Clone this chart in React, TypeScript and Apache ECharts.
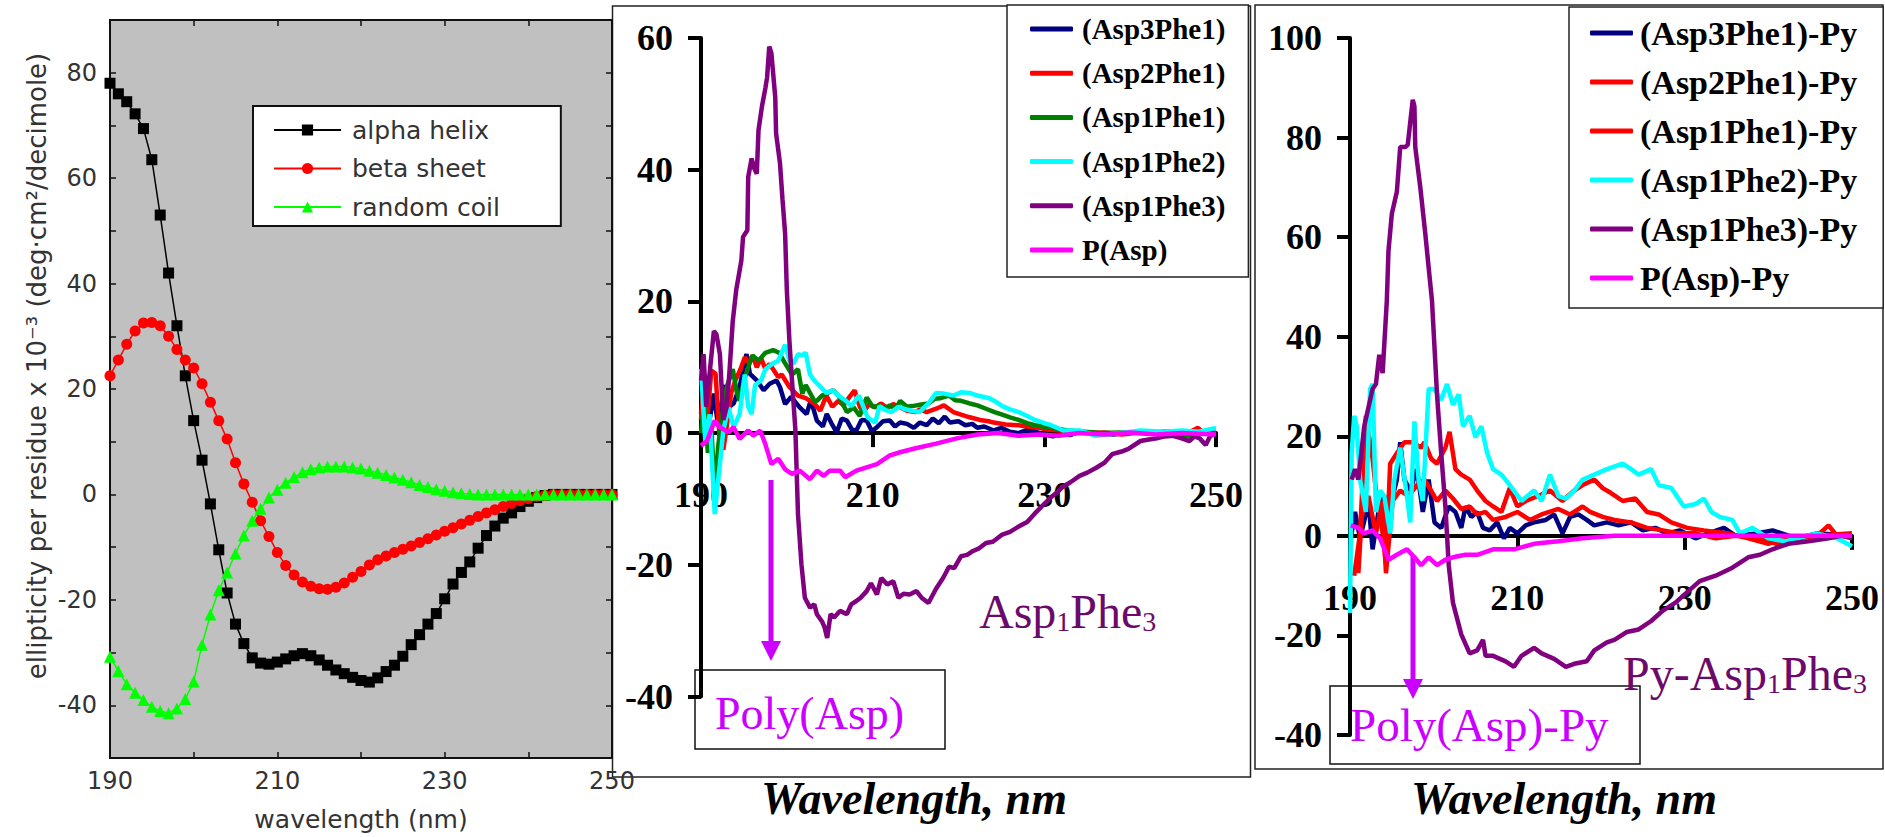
import React, { useEffect, useRef } from 'react';
import * as echarts from 'echarts';

// ---------- Panel 1: reference spectra ----------
const wavelengths = [190,191,192,193,194,195,196,197,198,199,200,201,202,203,204,205,206,207,208,209,210,211,212,213,214,215,216,217,218,219,220,221,222,223,224,225,226,227,228,229,230,231,232,233,234,235,236,237,238,239,240,241,242,243,244,245,246,247,248,249,250];
const alphaHelix = [78,76,74.5,72.2,69.4,63.5,53,42,32,22.5,14,6.5,-1.8,-10.5,-18.7,-24.6,-28.3,-31,-32,-32.2,-31.8,-31.2,-30.6,-30.2,-30.6,-31.4,-32.4,-33.3,-34,-34.7,-35.3,-35.6,-34.8,-33.6,-32.4,-30.7,-28.5,-26.6,-24.6,-22.6,-19.8,-17,-14.8,-12.8,-10.2,-7.8,-6,-4.5,-3.5,-2.3,-1.3,-0.6,-0.2,0,0,0,0,0,0,0,0];
const betaSheet = [22.5,25.5,28.5,31,32.5,32.6,32,30,27.5,25.5,24,21,17.5,14,10.5,6,2,-1.5,-5,-8,-11,-13.5,-15.3,-16.6,-17.4,-17.9,-18,-17.6,-16.8,-15.7,-14.6,-13.4,-12.4,-11.7,-11,-10.4,-9.8,-9.1,-8.4,-7.7,-7,-6.3,-5.6,-4.9,-4.2,-3.5,-2.9,-2.3,-1.7,-1.2,-0.8,-0.4,-0.2,0,0,0,0,0,0,0,0];
const randomCoil = [-30.8,-33.5,-36,-37.6,-39,-40.3,-41.1,-41.5,-40.6,-38.8,-35.5,-28.5,-22.8,-18.2,-14.8,-11.2,-7.8,-5,-2.7,-0.6,0.9,2.2,3.3,4.2,4.8,5.1,5.3,5.3,5.3,5.1,4.9,4.5,4.1,3.7,3.2,2.8,2.3,1.8,1.4,1,0.7,0.4,0.2,0.1,0,0,0,0,0,0,0,0,0,0,0,0,0,0,0,0,0];

// ---------- Panel 2: copolymers ----------
const p2Asp3Phe1 = [[190,3],[190.5,8],[191,2],[191.5,6],[192,1],[192.7,7.3],[193.3,4],[193.8,4.5],[194.5,7],[195.3,12],[195.7,9],[196.5,8],[197.3,6.5],[198,7.5],[198.8,8],[199.2,7],[199.8,4.4],[200.5,5.5],[201.5,3.9],[202.3,2.9],[202.8,5],[203.5,1.9],[204.2,1],[204.65,2.9],[205.2,1.5],[205.8,0.1],[206.4,2.2],[207,1.9],[207.6,0.5],[208.1,0.4],[208.7,2],[209.3,1.9],[209.9,0.3],[210.5,0.9],[211.2,1.8],[212,1.9],[212.6,1],[213.2,1.6],[214,1.4],[214.8,0.8],[215.5,1.6],[216.3,1.2],[217,2.2],[217.7,1.5],[218.4,2.5],[219,1.6],[220,1.8],[220.8,1.2],[221.6,1.4],[222.2,0.8],[223,1],[224.1,0.4],[225,0.8],[226,0.2],[227,0],[228,0.5],[229,0.2],[230,-0.2],[231,-0.5],[232,0],[233,-0.3],[234,0.2],[236,0],[238,-0.2],[240,0.1],[242,0],[244,0.2],[246,-0.2],[248,0.3],[250,0]];
const p2Asp2Phe1 = [[190,2],[190.4,9],[190.8,3],[191.2,9.5],[191.7,9],[192.2,-1.6],[192.6,-2.5],[193,1],[193.5,6],[194,8],[194.6,9.7],[195.1,11.5],[195.6,10.6],[196,11.8],[196.5,10],[197,11.4],[197.5,9.7],[198,10.5],[198.4,9.7],[199,8.5],[199.4,8.9],[200.3,7],[201.3,5.7],[202.2,5.3],[203.2,4.5],[203.9,3.4],[204.6,5.7],[205.3,4],[206,4.9],[206.6,4.2],[207.3,5.5],[207.9,6.5],[208.5,4],[208.9,3.2],[209.6,4.4],[210.3,3.9],[211,4.5],[211.7,3.8],[212.4,4.4],[213.2,3.9],[214,3.4],[215,3.2],[215.5,3.6],[216.3,3.2],[217.4,3.7],[218.3,4.2],[219.4,3.2],[220.3,2.8],[221.3,2.4],[222.5,2],[223.5,1.8],[224.1,1.6],[225.5,1.3],[227,1.2],[228,1],[229.3,0.8],[230.5,0.5],[231.7,0.4],[233,0.2],[235,0],[237,0.1],[239,-0.2],[241,0.1],[243,0],[245,0.3],[247,0.2],[247.9,0.8],[248.5,0.1],[250,0]];
const p2Asp1Phe1 = [[190,0],[190.4,5],[190.8,-3],[191.2,1],[191.6,-8.8],[192,-2],[192.5,3],[193,7],[193.7,9.7],[194.2,6],[194.5,4.9],[195,8],[195.5,10],[196,11.8],[196.7,11],[197.5,12.2],[198.4,12.6],[199.1,12.2],[199.8,10.6],[200.6,8.9],[201.3,9.7],[201.8,6],[202.2,7.3],[203.2,4.9],[203.5,4.9],[204.1,5.7],[205.4,6.5],[206,5.7],[207,3.2],[207.8,3.9],[208.5,2.6],[209.3,5.4],[210,4],[210.8,4.1],[211.3,3.7],[212,4.2],[212.7,3.7],[213.2,4.9],[214,4],[214.6,4.1],[215.5,4.3],[216.5,4.5],[217.2,5.2],[217.9,5.3],[218.9,5.7],[219.6,5],[220.3,4.9],[221.3,4.5],[222.2,4.2],[223.2,3.7],[224.2,3.2],[225.1,2.8],[226,2.4],[227,2],[228,1.5],[228.9,1.2],[230.8,0.8],[232.7,0.4],[234,0.3],[236.5,0],[239,0.1],[241.2,0],[244,-0.2],[246.9,-0.4],[248,0],[249.8,-0.2]];
const p2Asp1Phe2 = [[190,9.7],[190.5,-1.2],[191,2.9],[191.6,-12.3],[192,-7.2],[192.6,0.4],[193.2,3.9],[193.8,0.9],[194.5,2.9],[195.1,8.9],[195.5,4],[195.9,2.9],[196.3,7.3],[197,8],[197.5,9.7],[198.4,10.6],[199,11],[199.4,12.2],[199.8,13.4],[200.3,11],[200.8,10.6],[201.3,12],[201.8,11.8],[202.2,12.2],[202.7,8.9],[203.2,8],[203.7,7.3],[204.6,6.1],[205.3,6.5],[206,5.7],[206.8,5],[207.5,4.1],[208.4,5.7],[209.4,2.4],[210.3,1.6],[210.8,4.1],[211.5,3.5],[212.2,3.2],[213,4],[213.6,3.7],[214.5,3.4],[215.5,3.2],[216.5,4.5],[217.4,6.1],[218.3,6],[219.4,5.7],[220.3,6.2],[221.3,6.1],[222.2,5.7],[223.6,5.3],[224.3,4.8],[225.1,4.1],[226,3.6],[227,3.2],[228,2.6],[228.9,2],[230,1.5],[230.8,1.2],[232.2,0.4],[234.1,0.4],[236,-0.4],[238.9,0],[241.2,0.4],[244,0.2],[246,0.4],[248,0.2],[250,0.8]];
const p2Asp1Phe3 = [[190,8],[190.3,12],[190.6,4],[191,9],[191.5,15.5],[191.8,15],[192.2,12],[192.6,2],[193,4],[193.3,9],[193.7,17],[194.1,21.7],[194.7,26.2],[194.9,29.8],[195.4,30.8],[195.5,38.9],[195.9,41.7],[196.2,40.2],[196.5,39.4],[196.7,46],[197.1,49.6],[197.5,52.4],[197.7,54],[197.95,58.7],[198.2,57.7],[198.65,51],[198.75,45.5],[199.2,41],[199.5,35.4],[199.8,30.3],[200,21.7],[200.3,14],[200.6,8],[201,0.4],[201.3,-12.3],[201.7,-19.9],[202.1,-25],[202.7,-26.5],[203.2,-26],[203.5,-27.5],[204.1,-28.6],[204.4,-29.5],[204.7,-31.1],[205.1,-27.5],[205.5,-28],[206.2,-27],[207,-27.5],[207.5,-26],[208.1,-25.5],[208.6,-25],[209.3,-24],[209.8,-22.8],[210.5,-24.5],[211,-22],[211.7,-23],[212.4,-22.5],[213,-25],[213.6,-24.4],[214.3,-24.5],[215.1,-24],[215.7,-25],[216.5,-25.8],[217.4,-23.6],[218.2,-22],[218.9,-20.3],[219.5,-20.5],[220.3,-18.7],[221,-18.5],[221.7,-17.9],[222.4,-17.5],[223.2,-16.7],[224,-16.5],[225.1,-15.4],[226,-15],[227,-14.2],[228,-13.5],[228.9,-12.2],[229.8,-11],[230.8,-9.7],[231.5,-9],[232.2,-8.1],[233,-7.5],[234.1,-6.5],[235,-6],[236,-5.3],[237,-4.5],[237.9,-3.2],[239,-2.8],[239.8,-2.4],[241.2,-1.2],[242,-1],[243.1,-0.8],[244,-0.5],[245,-0.4],[246,-0.8],[246.9,-1.2],[247.5,-0.5],[248.1,-0.8],[248.8,-1.8],[249.3,-0.5],[250,0]];
const p2PAsp = [[190,-1.9],[190.7,-1.2],[191.6,1.9],[192.2,0.9],[193.2,0.1],[193.8,0.9],[194.5,-0.9],[195.5,0.4],[196.1,-0.4],[196.9,0.4],[197.5,-1.7],[198.2,-4.7],[199,-3.9],[199.8,-5.5],[200.6,-6.2],[201.5,-5.7],[202.7,-7],[203.5,-5.7],[204.3,-6.5],[205,-5.7],[206.2,-5.7],[206.8,-6.7],[208.1,-5.7],[209.3,-5.2],[210.5,-4.7],[212,-3.4],[213.2,-2.9],[215,-2.3],[217.4,-1.6],[219.8,-0.8],[222.2,-0.2],[224.6,0],[227,-0.4],[229.3,-0.2],[231.7,-0.4],[234,0],[237,-0.2],[240,0.1],[243,-0.2],[246,0],[250,-0.2]];

// ---------- Panel 3: pyrene-labelled copolymers ----------
const p3Asp3Phe1 = [[190.1,-0.5],[190.6,4.8],[191.2,-0.5],[191.7,3],[192.2,7],[192.7,-2.7],[193.4,4.8],[194.1,8],[194.8,5.9],[195.6,11.3],[196,18.8],[196.5,11.3],[197.2,9.1],[198,13.4],[198.7,4.8],[199.4,11.3],[200.1,2.7],[200.9,1.6],[201.8,5.9],[202.6,4.8],[203.3,1.6],[203.8,5.9],[204.5,3.8],[205.2,4.8],[205.9,1.6],[206.7,1.1],[207.6,2.7],[208.4,-0.5],[209.1,1.6],[210,0.5],[211,2.1],[212,2.7],[213.4,3.2],[214.4,4.3],[215.4,0.5],[216.3,3.8],[217.3,4.3],[218.3,3.2],[219.2,2.1],[220.7,2.7],[222.1,2.1],[223.6,2.7],[225,1.1],[226.5,1.6],[227.9,0.5],[229.4,1.1],[231.3,-0.5],[232.8,0.5],[234.7,1.6],[236.1,0],[238.6,0.5],[240.5,1.1],[243.4,-0.5],[245.8,0.5],[250,0]];
const p3Asp2Phe1 = [[190.5,-8],[191.2,0.5],[191.9,24.1],[192.7,15.5],[193.1,9.1],[193.9,0.5],[194.3,-5.9],[194.8,14.5],[195.6,16.6],[196.5,18.8],[197.5,18.8],[198.5,17.7],[198.9,18.8],[199.7,15.5],[200.4,14.5],[201.4,17.7],[201.9,20.9],[202.6,13.4],[203.3,12.3],[204.3,11.3],[205.2,9.1],[206.2,7],[207.1,5.9],[208.1,4.8],[209.1,9.6],[210,5.9],[211,7],[212.5,8],[213.9,9.1],[215.4,7],[216.8,9.1],[217.8,10.2],[219.2,11.3],[220.2,9.6],[221.2,8.6],[222.6,7],[224.1,7.5],[225.5,4.8],[226.9,4.3],[228.4,2.7],[230.3,1.6],[232.3,1.1],[235.2,0.5],[237.6,-0.5],[240,-1.6],[242,-0.5],[245.8,0],[247.2,2.1],[248.2,0],[250,0]];
const p3Asp1Phe1 = [[191,-7.5],[191.4,3.8],[192.2,8],[193.1,0.5],[193.9,7],[194.3,-7.5],[195.1,7],[196,9.1],[197,8],[198,10.2],[198.9,11.3],[199.7,9.1],[200.4,7],[201.4,9.1],[202.3,7.5],[203.3,5.4],[204.3,5.9],[205.2,4.3],[206.2,4.8],[207.1,3.2],[208.6,3.8],[210,4.8],[211.5,3.2],[212.9,4.3],[214.9,5.4],[216.3,4.3],[217.8,5.9],[218.7,4.8],[220.2,3.8],[221.6,3.2],[223.6,2.7],[225.5,1.6],[227.4,1.1],[229.4,0.5],[231.3,0.5],[233.7,-0.5],[236.1,0],[239,-0.5],[241,-1.6],[243.4,-0.5],[245.8,0],[250,0.5]];
const p3Asp1Phe2 = [[190,-15.5],[190.2,16.6],[190.5,24.1],[190.8,22],[191.2,11.3],[191.9,4.8],[192.4,29.5],[192.7,30.5],[193.1,4.8],[193.6,9.1],[194.1,8],[194.8,0.5],[195.3,11.3],[196,17.7],[196.8,8],[197.2,2.7],[197.7,23],[198.2,11.3],[198.7,7],[199.4,29.5],[200.1,29.5],[200.9,27.3],[201.6,30.5],[202.3,26.3],[203,28.4],[203.5,22],[204.3,24.1],[205,19.8],[205.7,22],[206.4,16.6],[207.1,13.4],[208.1,12.3],[209.1,10.2],[210.5,7],[212,9.1],[212.9,7],[213.9,12.3],[214.9,8],[215.8,7.5],[216.8,9.1],[217.8,11.3],[219.2,12.3],[220.7,13.4],[222.6,14.5],[223.6,13.4],[224.5,12.3],[226,13.4],[226.9,10.2],[228.4,9.6],[229.9,5.9],[231.3,6.4],[232.3,7.5],[233.2,4.8],[234.2,3.8],[235.7,3.2],[236.6,0.5],[238.1,1.6],[240,-0.5],[242,-1.1],[243.4,-0.5],[245.8,0.5],[248.2,-0.5],[250,-2.1]];
const p3Asp1Phe3 = [[190.2,11.3],[190.6,13.4],[191,11.3],[191.7,22],[192.7,29.5],[193.1,30.5],[193.5,36.4],[193.9,32.7],[194.4,47.2],[194.6,57.3],[195,64.7],[195.6,69.1],[196,78.1],[196.6,78.1],[196.9,78.5],[197.2,83.1],[197.5,87.6],[197.7,86.3],[197.8,78.1],[198.4,70],[199,60.7],[199.4,53.9],[199.8,47.2],[200.4,28.4],[200.9,16.6],[201.4,5.9],[201.8,-5.9],[202.3,-13.4],[203.3,-19.8],[204.3,-23.6],[205.2,-23],[205.9,-20.9],[206.2,-24.1],[207.1,-24.1],[208.6,-25.2],[209.6,-26.3],[210.5,-24.1],[212,-22.5],[212.9,-23.6],[214.4,-24.7],[215.8,-26.3],[216.8,-25.7],[218.3,-25.2],[219.2,-23],[220.7,-21.4],[221.6,-20.9],[223.1,-19.3],[224.5,-18.8],[226,-17.1],[227.4,-15],[228.9,-13.4],[230.3,-11.3],[231.8,-9.1],[233.7,-8],[235.7,-6.4],[237.6,-4.3],[239,-3.8],[240.5,-2.7],[242.4,-1.6],[244.8,-1.1],[247.2,-0.5],[248.7,0],[250,-0.5]];
const p3PAsp = [[190.1,2.1],[191,1.6],[191.7,0.5],[192.7,1.1],[193.6,-0.5],[194.6,-4.8],[195.6,-3.8],[196.8,-2.7],[197.7,-4.3],[198.5,-5.9],[199.4,-4.3],[200.4,-5.9],[201.4,-4.8],[202.3,-4.3],[203.8,-3.8],[205.2,-3.8],[207.1,-2.7],[209.6,-2.7],[212,-1.6],[214.9,-1.1],[217.8,-0.5],[221.6,0],[226.5,0],[231.3,0],[236.1,0],[250,0]];

const refNames = ['alpha helix', 'beta sheet', 'random coil'];
const p2Names = ['(Asp3Phe1)', '(Asp2Phe1)', '(Asp1Phe1)', '(Asp1Phe2)', '(Asp1Phe3)', 'P(Asp)'];
const p3Names = ['(Asp3Phe1)-Py', '(Asp2Phe1)-Py', '(Asp1Phe1)-Py', '(Asp1Phe2)-Py', '(Asp1Phe3)-Py', 'P(Asp)-Py'];
const p2Colors = ['#000080', '#ff0000', '#008000', '#00ffff', '#800080', '#ff00ff'];
const p3Colors = ['#000080', '#ff0000', '#ff0000', '#00ffff', '#800080', '#ff00ff'];
const p2Data = [p2Asp3Phe1, p2Asp2Phe1, p2Asp1Phe1, p2Asp1Phe2, p2Asp1Phe3, p2PAsp];
const p3Data = [p3Asp3Phe1, p3Asp2Phe1, p3Asp1Phe1, p3Asp1Phe2, p3Asp1Phe3, p3PAsp];

const SANS = "'DejaVu Sans', sans-serif";
const SERIF = "'Liberation Serif', 'Times New Roman', serif";

// grid geometry of the two right-hand panels (used to place the x axis on y = 0)
const G2 = { left: 701, top: 38, width: 515, height: 658.5, yMin: -40, yMax: 60 };
const G3 = { left: 1350, top: 38, width: 502, height: 697, yMin: -40, yMax: 100 };

function buildOption() {
  const pair = (ys: number[]) => wavelengths.map((w, i) => [w, ys[i]]);
  const p1Grey = '#333';

  const refSeries = [
    { name: refNames[0], data: pair(alphaHelix), symbol: 'rect', symbolSize: 11, color: '#000000' },
    { name: refNames[1], data: pair(betaSheet), symbol: 'circle', symbolSize: 11, color: '#ff0000' },
    { name: refNames[2], data: pair(randomCoil), symbol: 'triangle', symbolSize: 12, color: '#00ff00' },
  ].map((s) => ({
    type: 'line', xAxisIndex: 0, yAxisIndex: 0, name: s.name, data: s.data,
    symbol: s.symbol, symbolSize: s.symbolSize, showSymbol: true, showAllSymbol: true,
    itemStyle: { color: s.color }, lineStyle: { color: s.color, width: 1.5 },
  }));

  const mk = (names: string[], colors: string[], datas: number[][][], axis: number) =>
    names.map((n, i) => ({
      type: 'line', xAxisIndex: axis, yAxisIndex: axis, name: n, data: datas[i],
      showSymbol: false, symbol: 'none', itemStyle: { color: colors[i] },
      lineStyle: { color: colors[i], width: 4.5 },
    }));

  const zeroOffset = (g: typeof G2) => -(g.height * (0 - g.yMin)) / (g.yMax - g.yMin);

  const bigAxisX = (grid: number, g: typeof G2) => ({
    gridIndex: grid, type: 'value', min: 190, max: 250, interval: 20, position: 'bottom',
    offset: zeroOffset(g),
    axisLine: { onZero: false, lineStyle: { color: '#000', width: 4 } },
    axisTick: { show: true, length: 14, lineStyle: { color: '#000', width: 4 } },
    axisLabel: { color: '#000', fontFamily: SERIF, fontWeight: 'bold', fontSize: 36, margin: 44 },
    splitLine: { show: false },
  });
  const bigAxisY = (grid: number, g: typeof G2) => ({
    gridIndex: grid, type: 'value', min: g.yMin, max: g.yMax, interval: 20,
    axisLine: { show: true, onZero: false, lineStyle: { color: '#000', width: 4 } },
    axisTick: { show: true, length: 13, lineStyle: { color: '#000', width: 4 } },
    axisLabel: { color: '#000', fontFamily: SERIF, fontWeight: 'bold', fontSize: 36, margin: 28 },
    splitLine: { show: false },
  });

  const p1LabelX = (v: number) => ((v - 190) % 20 === 0 ? String(v) : '');
  const p1LabelY = (v: number) => (v % 20 === 0 ? String(v) : '');

  const sub = (color: string) => ({
    m: { fontFamily: SERIF, fontSize: 48, lineHeight: 48, fill: color },
    s: { fontFamily: SERIF, fontSize: 28, lineHeight: 10, verticalAlign: 'bottom', fill: color },
  });

  return {
    animation: false,
    backgroundColor: '#ffffff',
    grid: [
      { left: 110, top: 20, width: 502, height: 740, show: true, backgroundColor: '#c0c0c0', borderColor: '#111', borderWidth: 2 },
      { left: G2.left, top: G2.top, width: G2.width, height: G2.height },
      { left: G3.left, top: G3.top, width: G3.width, height: G3.height },
    ],
    xAxis: [
      {
        gridIndex: 0, type: 'value', min: 190, max: 250, interval: 10, position: 'bottom',
        axisLine: { onZero: false, lineStyle: { color: '#111', width: 2 } },
        axisTick: { inside: true, length: 6, lineStyle: { color: '#111', width: 1.5 } },
        axisLabel: { formatter: p1LabelX, color: p1Grey, fontFamily: SANS, fontSize: 24, margin: 11 },
        splitLine: { show: false },
        name: 'wavelength (nm)', nameLocation: 'middle', nameGap: 49,
        nameTextStyle: { color: p1Grey, fontFamily: SANS, fontSize: 25 },
      },
      {
        gridIndex: 0, type: 'value', min: 190, max: 250, interval: 10, position: 'top',
        axisLine: { onZero: false, lineStyle: { color: '#111', width: 2 } },
        axisTick: { inside: true, length: 6, lineStyle: { color: '#111', width: 1.5 } },
        axisLabel: { show: false }, splitLine: { show: false },
      },
      bigAxisX(1, G2),
      bigAxisX(2, G3),
    ],
    yAxis: [
      {
        gridIndex: 0, type: 'value', min: -50, max: 90, interval: 10, position: 'left',
        axisLine: { show: true, onZero: false, lineStyle: { color: '#111', width: 2 } },
        axisTick: { show: true, inside: true, length: 6, lineStyle: { color: '#111', width: 1.5 } },
        axisLabel: { formatter: p1LabelY, color: p1Grey, fontFamily: SANS, fontSize: 24, margin: 13 },
        splitLine: { show: false },
        name: 'ellipticity per residue x 10⁻³ (deg·cm²/decimole)', nameLocation: 'middle', nameGap: 60,
        nameTextStyle: { color: p1Grey, fontFamily: SANS, fontSize: 26, padding: [0, 0, 0, 46] },
      },
      {
        gridIndex: 0, type: 'value', min: -50, max: 90, interval: 10, position: 'right',
        axisLine: { show: true, onZero: false, lineStyle: { color: '#111', width: 2 } },
        axisTick: { show: true, inside: true, length: 6, lineStyle: { color: '#111', width: 1.5 } },
        axisLabel: { show: false }, splitLine: { show: false },
      },
      bigAxisY(1, G2),
      bigAxisY(2, G3),
    ],
    legend: [
      {
        data: refNames, orient: 'vertical', left: 253, top: 106, padding: [11, 61, 6, 20],
        itemWidth: 67, itemHeight: 14, itemGap: 12.5, selectedMode: false,
        backgroundColor: '#ffffff', borderColor: '#111', borderWidth: 2, borderRadius: 0,
        textStyle: { color: p1Grey, fontFamily: SANS, fontSize: 25, lineHeight: 26, padding: [0, 0, 0, 6] },
      },
      {
        data: p2Names, orient: 'vertical', left: 1007, top: 5, padding: [8, 23, 11, 23],
        itemWidth: 43, itemHeight: 5, itemGap: 12.2, icon: 'roundRect', selectedMode: false,
        backgroundColor: '#ffffff', borderColor: '#222', borderWidth: 1.5, borderRadius: 0,
        textStyle: { color: '#000', fontFamily: SERIF, fontWeight: 'bold', fontSize: 29, lineHeight: 32, padding: [0, 0, 0, 4] },
      },
      {
        data: p3Names, orient: 'vertical', left: 1569, top: 7, padding: [8, 26, 12, 21],
        itemWidth: 43, itemHeight: 5, itemGap: 13, icon: 'roundRect', selectedMode: false,
        backgroundColor: '#ffffff', borderColor: '#222', borderWidth: 1.5, borderRadius: 0,
        textStyle: { color: '#000', fontFamily: SERIF, fontWeight: 'bold', fontSize: 34, lineHeight: 36, padding: [0, 0, 0, 2] },
      },
    ],
    graphic: [
      { type: 'rect', silent: true, shape: { x: 612.5, y: 6, width: 638, height: 771 }, style: { fill: 'none', stroke: '#222', lineWidth: 1.5 } },
      { type: 'rect', silent: true, shape: { x: 1255, y: 5, width: 628, height: 764 }, style: { fill: 'none', stroke: '#222', lineWidth: 1.5 } },
      { type: 'rect', silent: true, shape: { x: 695, y: 670, width: 250, height: 79 }, style: { fill: 'none', stroke: '#111', lineWidth: 1.5 } },
      { type: 'rect', silent: true, shape: { x: 1330, y: 686, width: 310, height: 78 }, style: { fill: 'none', stroke: '#111', lineWidth: 1.5 } },
      { type: 'line', silent: true, shape: { x1: 771, y1: 480, x2: 771, y2: 645 }, style: { stroke: '#cc00ff', lineWidth: 5 } },
      { type: 'polygon', silent: true, shape: { points: [[761, 641], [781, 641], [771, 661]] }, style: { fill: '#cc00ff' } },
      { type: 'line', silent: true, shape: { x1: 1413, y1: 556, x2: 1413, y2: 683 }, style: { stroke: '#cc00ff', lineWidth: 5 } },
      { type: 'polygon', silent: true, shape: { points: [[1403, 679], [1423, 679], [1413, 699]] }, style: { fill: '#cc00ff' } },
      { type: 'text', silent: true, x: 715, y: 713, style: { text: 'Poly(Asp)', fontFamily: SERIF, fontSize: 46, fill: '#cc00ff', align: 'left', verticalAlign: 'middle' } },
      { type: 'text', silent: true, x: 1350, y: 725, style: { text: 'Poly(Asp)-Py', fontFamily: SERIF, fontSize: 47, fill: '#cc00ff', align: 'left', verticalAlign: 'middle' } },
      { type: 'text', silent: true, x: 979, y: 611, style: { text: '{m|Asp}{s|1}{m|Phe}{s|3}', rich: sub('#6b0a6b'), align: 'left', verticalAlign: 'middle', fill: '#6b0a6b' } },
      { type: 'text', silent: true, x: 1623, y: 673, style: { text: '{m|Py-Asp}{s|1}{m|Phe}{s|3}', rich: sub('#6b0a6b'), align: 'left', verticalAlign: 'middle', fill: '#6b0a6b' } },
      { type: 'text', silent: true, x: 914, y: 798, style: { text: 'Wavelength, nm', fontFamily: SERIF, fontStyle: 'italic', fontWeight: 'bold', fontSize: 46, fill: '#000', align: 'center', verticalAlign: 'middle' } },
      { type: 'text', silent: true, x: 1564, y: 798, style: { text: 'Wavelength, nm', fontFamily: SERIF, fontStyle: 'italic', fontWeight: 'bold', fontSize: 46, fill: '#000', align: 'center', verticalAlign: 'middle' } },
    ],
    series: [
      ...refSeries,
      ...mk(p2Names, p2Colors, p2Data, 2),
      ...mk(p3Names, p3Colors, p3Data, 3),
    ],
  };
}

export default function App() {
  const ref = useRef<HTMLDivElement>(null);
  useEffect(() => {
    if (!ref.current) return;
    const chart = echarts.init(ref.current, undefined, { renderer: 'svg' });
    chart.setOption(buildOption() as any);
    return () => chart.dispose();
  }, []);
  return <div ref={ref} style={{ position: 'absolute', left: 0, top: 0, width: 1885, height: 837 }} />;
}
